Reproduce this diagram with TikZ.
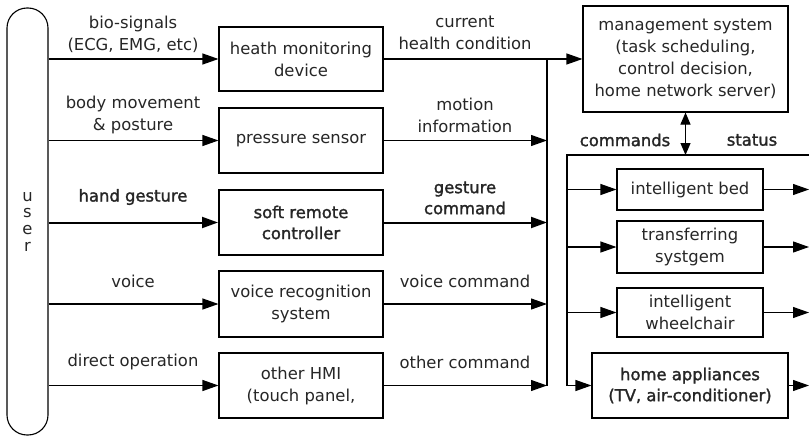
\documentclass[tikz,border=0pt]{standalone}
\usepackage{fontspec}
\setmainfont{DejaVu Sans}
\newfontfamily\heavy{DejaVu Sans}[FakeBold=1.6]
\usetikzlibrary{arrows.meta}
\begin{document}
\begin{tikzpicture}[x=1pt,y=-1pt,
  txt/.style={font=\fontsize{16.4}{22}\selectfont, text=black!85, align=center, inner sep=0pt},
  bold/.style={txt, font=\fontsize{16.4}{21}\selectfont\heavy},
  box/.style={draw, line width=1.1pt, txt},
  arr/.style={line width=1.1pt, -{Triangle[length=16pt,width=11pt]}},
  darr/.style={line width=1.1pt, {Triangle[length=12pt,width=10pt]}-{Triangle[length=12pt,width=10pt]}},
  ln/.style={line width=1.1pt}
]
\useasboundingbox (0,0) rectangle (809,436);

% the user column
\node[draw, line width=1.1pt, rounded corners=20pt, minimum width=41pt, minimum height=427pt,
      txt, font=\fontsize{16.4}{16.7}\selectfont] (user) at (27.5,221.5) {u\\s\\e\\r};

% interface devices
\node[box, minimum width=164pt, minimum height=64pt] (hmd) at (301,59) {heath monitoring\\device};
\node[box, minimum width=164pt, minimum height=65pt] (ps) at (301,140.5) {pressure sensor};
\node[box, line width=2pt, minimum width=164pt, minimum height=65pt, bold] (src) at (301,222.5) {soft remote\\controller};
\node[box, minimum width=164pt, minimum height=66pt] (vrs) at (301,304) {voice recognition\\system};
\node[box, minimum width=164pt, minimum height=65pt] (hmi) at (301,385.5) {other HMI\\(touch panel,};

% management and controlled devices
\node[box, minimum width=205pt, minimum height=106pt] (mgmt) at (685.5,59) {management system\\(task scheduling,\\control decision,\\home network server)};
\node[box, minimum width=146pt, minimum height=41pt] (bed) at (690,189.5) {intelligent bed};
\node[box, minimum width=146pt, minimum height=52pt] (trans) at (690,247) {transferring\\systgem};
\node[box, minimum width=146pt, minimum height=49pt] (wheel) at (690,312.5) {intelligent\\wheelchair};
\node[box, minimum width=196pt, minimum height=65pt, bold] (home) at (690,385.5) {home appliances\\(TV, air-conditioner)};

% user inputs
\draw[arr] (user.east |- hmd.west) -- (hmd.west);
\draw[arr] (user.east |- ps.west) -- (ps.west);
\draw[arr, line width=2pt] (user.east |- src.west) -- (src.west);
\draw[arr] (user.east |- vrs.west) -- (vrs.west);
\draw[arr] (user.east |- hmi.west) -- (hmi.west);

\node[txt] at (133,34) {bio-signals\\(ECG, EMG, etc)};
\node[txt] at (133,115) {body movement\\\& posture};
\node[bold] at (133,197) {hand gesture};
\node[txt] at (133,281) {voice};
\node[txt] at (133,362) {direct operation};

% collecting bus to the management system
\coordinate (bus) at (547,59);
\draw[arr] (hmd.east) -- (mgmt.west |- hmd.east);
\draw[ln] (bus) -- (bus |- hmi.east);
\draw[arr] (ps.east) -- (bus |- ps.east);
\draw[arr, line width=2pt] (src.east) -- (bus |- src.east);
\draw[arr] (vrs.east) -- (bus |- vrs.east);
\draw[arr] (hmi.east) -- (bus |- hmi.east);

\node[txt] at (465,33) {current\\health condition};
\node[txt] at (465,115.5) {motion\\information};
\node[bold] at (465,198) {gesture\\command};
\node[txt] at (465,281) {voice command};
\node[txt] at (465,362) {other command};

% distribution bracket
\coordinate (brk) at (567,155);
\coordinate (brkR) at (809,155);
\draw[ln] (brkR) -- (brk) -- (brk |- home.west);
\draw[darr] (mgmt.south) -- (mgmt.south |- brk);
\node[bold] at (625,140) {commands};
\node[bold] at (752,140) {status};

\draw[arr] (brk |- bed.west) -- (bed.west);
\draw[arr] (brk |- trans.west) -- (trans.west);
\draw[arr] (brk |- wheel.west) -- (wheel.west);
\draw[arr] (brk |- home.west) -- (home.west);

\draw[arr] (bed.east) -- (brkR |- bed.east);
\draw[arr] (trans.east) -- (brkR |- trans.east);
\draw[arr] (wheel.east) -- (brkR |- wheel.east);
\draw[arr] (home.east) -- (brkR |- home.east);
\end{tikzpicture}
\end{document}
